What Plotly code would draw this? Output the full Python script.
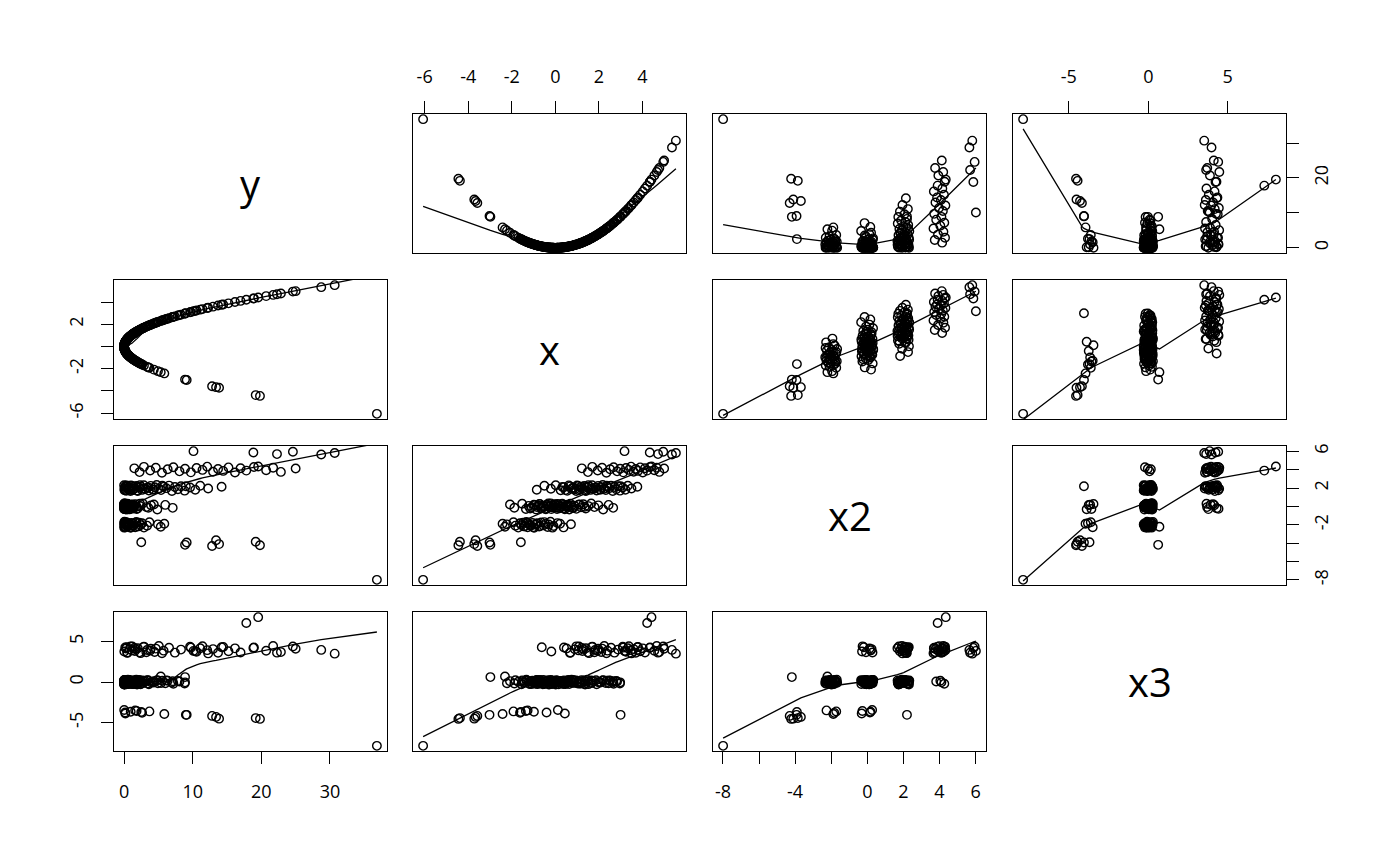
import numpy as np
import plotly.graph_objects as go

# ---------------- data ----------------
x = [-6.07,
     -4.45, -4.38, -3.72, -3.66, -3.58, -3.02, -2.98, -1.58,
     -2.42, -2.31, -2.22, -1.92, -1.83, -1.70, -1.62, -1.55, -1.48, -1.41, -1.33, -1.27, -1.20, -1.12,
     -1.05, -0.97, -0.90, -0.82, -0.74, -0.65, -0.55, -0.46, -0.35, -0.22, -0.08, 0.10, 0.38, 0.72,
     -2.08, -1.88, -1.52, -1.35, -1.22, -1.08, -0.98, -0.88, -0.78, -0.70, -0.62, -0.53, -0.47, -0.40,
     -0.32, -0.25, -0.18, -0.10, -0.03, 0.05, 0.12, 0.20, 0.28, 0.36, 0.44, 0.52, 0.60, 0.69, 0.78,
     0.88, 0.97, 1.07, 1.18, 1.29, 1.40, 1.52, 1.65, 1.80, 1.98, 2.20, 2.45, 2.66,
     -0.85, -0.50, -0.20, 0.02, 0.25, 0.40, 0.55, 0.68, 0.80, 0.90, 1.00, 1.09, 1.17, 1.25, 1.33,
     1.41, 1.48, 1.55, 1.62, 1.69, 1.76, 1.83, 1.90, 1.97, 2.04, 2.11, 2.18, 2.25, 2.32, 2.40,
     2.48, 2.56, 2.64, 2.72, 2.80, 2.88, 2.97, 3.00, 3.10, 3.22, 3.33, 3.50, 3.77,
     1.22, 1.50, 1.70, 1.95, 2.15, 2.35, 2.52, 2.68, 2.84, 2.98, 3.12, 3.25, 3.38, 3.48, 3.60,
     3.70, 3.80, 3.90, 4.02, 4.12, 4.22, 4.35, 4.42, 4.55, 4.66, 4.78, 5.00,
     3.18, 4.34, 4.72, 4.96, 5.36, 5.54,
     -1.15, -0.93, -0.84, -0.73, -0.66, -0.57, -0.43, -0.36, -0.28, -0.21, -0.14, -0.06, 0.01,
     0.08, 0.16, 0.24, 0.32, 0.40, 0.48, 0.56, 0.64, 0.74, 0.84, 1.12, 1.35,
     -1.44, -1.30, -1.16, -1.01, -0.86, -0.70, -0.50, -0.30, -0.13, 0.22,
     0.33, 0.47, 0.62, 0.75, 0.86, 0.96, 1.05, 1.13, 1.21, 1.37, 1.52, 1.66, 1.87, 2.08, 2.36]

y = [36.84,
     19.80, 19.18, 13.84, 13.40, 12.82, 9.12, 8.88, 2.50,
     5.86, 5.34, 4.93, 3.69, 3.35, 2.89, 2.62, 2.40, 2.19, 1.99, 1.77, 1.61, 1.44, 1.25,
     1.10, 0.94, 0.81, 0.67, 0.55, 0.42, 0.30, 0.21, 0.12, 0.05, 0.01, 0.01, 0.14, 0.52,
     4.33, 3.53, 2.31, 1.82, 1.49, 1.17, 0.96, 0.77, 0.61, 0.49, 0.38, 0.28, 0.22, 0.16,
     0.10, 0.06, 0.03, 0.01, 0.00, 0.00, 0.01, 0.04, 0.08, 0.13, 0.19, 0.27, 0.36, 0.48, 0.61,
     0.77, 0.94, 1.14, 1.39, 1.66, 1.96, 2.31, 2.72, 3.24, 3.92, 4.84, 6.00, 7.08,
     0.72, 0.25, 0.04, 0.00, 0.06, 0.16, 0.30, 0.46, 0.64, 0.81, 1.00, 1.19, 1.37, 1.56, 1.77,
     1.99, 2.19, 2.40, 2.62, 2.86, 3.10, 3.35, 3.61, 3.88, 4.16, 4.45, 4.75, 5.06, 5.38, 5.76,
     6.15, 6.55, 6.97, 7.40, 7.84, 8.29, 8.82, 9.00, 9.61, 10.37, 11.09, 12.25, 14.21,
     1.49, 2.25, 2.89, 3.80, 4.62, 5.52, 6.35, 7.18, 8.07, 8.88, 9.73, 10.56, 11.42, 12.11, 12.96,
     13.69, 14.44, 15.21, 16.16, 16.97, 17.81, 18.92, 19.54, 20.70, 21.72, 22.85, 25.00,
     10.11, 18.84, 22.28, 24.60, 28.73, 30.69,
     1.32, 0.86, 0.71, 0.53, 0.44, 0.32, 0.18, 0.13, 0.08, 0.04, 0.02, 0.00, 0.00,
     0.01, 0.03, 0.06, 0.10, 0.16, 0.23, 0.31, 0.41, 0.55, 0.71, 1.25, 1.82,
     2.07, 1.69, 1.35, 1.02, 0.74, 0.49, 0.25, 0.09, 0.02, 0.05,
     0.11, 0.22, 0.38, 0.56, 0.74, 0.92, 1.10, 1.28, 1.46, 1.88, 2.31, 2.76, 3.50, 4.33, 5.57]

x2 = [-7.99,
      -4.22, -3.85, -4.10, -3.68, -4.30, -3.92, -4.18, -3.90,
      -1.88, -2.21, -1.95, -1.72, -2.09, -2.30, -1.83, -2.02, -1.76, -2.15, -1.69, -2.26, -1.92, -2.11,
      -1.80, -2.33, -1.98, -1.86, -2.19, -1.74, -2.06, -1.90, -2.24, -1.67, -2.13, -1.81, -2.28, -1.93,
      0.21, -0.14, 0.30, -0.27, 0.06, -0.08, 0.18, -0.32, 0.11, 0.25, -0.19, 0.03, -0.24, 0.15,
      0.33, -0.05, -0.29, 0.09, 0.22, -0.12, 0.27, -0.20, 0.01, 0.16, -0.31, 0.13, -0.03, 0.29, -0.17,
      0.07, -0.26, 0.19, -0.10, 0.24, -0.22, 0.04, 0.32, -0.07, 0.12, -0.34, 0.17, -0.15,
      1.82, 2.26, 1.93, 2.31, 1.77, 2.10, 1.70, 2.19, 2.04, 1.86, 2.28, 1.75, 2.13, 1.96, 2.22,
      1.67, 2.07, 2.17, 1.80, 2.30, 1.90, 2.02, 1.73, 2.24, 1.84, 2.09, 2.33, 1.92, 1.78, 2.15,
      1.99, 2.27, 1.69, 2.11, 1.88, 2.20, 1.72, 2.20, 2.06, 1.81, 2.25, 1.95, 2.14,
      4.15, 3.74, 4.31, 3.92, 4.22, 3.67, 4.05, 4.27, 3.82, 4.11, 3.71, 4.19, 3.98, 4.33, 3.78,
      4.08, 3.87, 4.25, 3.69, 4.16, 3.90, 4.29, 4.35, 3.94, 4.21, 3.76, 4.13,
      6.02, 5.88, 5.70, 5.95, 5.66, 5.82,
      -0.23, 0.14, -0.06, 0.28, -0.17, 0.09, -0.30, 0.20, -0.01, 0.33, -0.12, 0.05, 0.25,
      -0.27, 0.12, -0.09, 0.30, -0.20, 0.02, 0.18, -0.33, 0.08, -0.15, 0.23, -0.04,
      -2.17, -1.79, -2.04, -2.27, -1.85, -2.12, -1.71, -1.97, -2.31, -1.89,
      2.12, 1.78, 2.29, 1.91, 2.05, 1.68, 2.23, 1.87, 2.16, 1.74, 2.32, 1.94, 2.08, 1.83, 2.26]

x3 = [-7.88,
      -4.55, -4.45, -4.52, -4.30, -4.18, -4.05, 0.62, -3.70,
      -3.95, 0.70, -0.14, -3.62, 0.23, 0.05, -3.80, -0.27, 0.12, -0.03, 0.29, -3.50, -0.20, 0.08,
      0.18, -0.10, 0.01, -0.25, 0.20, -0.06, 0.26, -0.16, 0.10, -0.08, 0.03, 0.14, -0.21, 0.07,
      0.12, -0.18, 0.21, -3.58, 0.03, -0.23, -3.66, 0.16, -0.07, 0.27, 4.30, -0.12, 0.06, -3.75,
      0.19, -0.27, 3.78, 0.09, -0.16, 0.24, -3.45, -0.05, 0.13, -0.22, -3.88, 4.15, 0.28, 3.66, -0.10,
      0.17, 4.42, 3.92, -0.18, 4.08, 0.07, -0.25, 0.20, 3.70, -0.01, 0.25, -0.14, 0.10,
      0.18, -0.23, 0.08, -0.29, 0.14, 4.28, -0.04, 3.61, 0.23, 4.05, -0.15, 4.40, 0.05, 3.85, -0.20,
      4.19, 0.26, 3.58, -0.08, 4.33, 0.12, 3.96, -0.26, 4.12, 0.02, 3.72, 0.19, 4.46, -0.12, 3.89,
      0.22, 4.24, -0.06, 3.64, 0.14, 4.02, -0.17, -4.05, 4.37, 3.80, 4.18, 3.55, 4.30,
      4.21, 3.68, 4.39, 3.90, 4.14, 3.57, 0.16, -0.21, 0.08, -0.03, 4.26, 3.74, 4.44, 3.95, 4.08,
      3.62, 4.35, 3.81, 4.17, 3.66, 7.30, 4.29, 8.03, 3.88, 4.47, 3.71, 4.12,
      3.86, 4.23, 3.64, 4.40, 3.98, 3.52,
      0.08, -0.19, 0.23, -0.05, 0.14, -0.28, 0.03, 0.20, -0.12, 0.27, -0.23, 0.11, -0.01,
      0.16, -0.26, 0.05, -0.14, 0.22, -0.08, 0.18, -0.24, 0.01, 0.25, -0.17, 0.07,
      -0.11, 0.19, -0.23, 0.04, 0.27, -0.16, 0.10, -0.29, 0.21, -0.02,
      0.15, -0.25, 0.06, 0.29, -0.09, 0.20, -0.18, 0.01, 0.25, -0.29, 0.10, -0.13, 0.23, -0.04, 0.17]

var_names = ["y", "x", "x2", "x3"]

tick_vals_y = [0, 10, 20, 30]
tick_vals_x = [-6, -4, -2, 0, 2, 4]
tick_vals_x2 = [-8, -6, -4, -2, 0, 2, 4, 6]
tick_vals_x3 = [-5, 0, 5]

labels_y_bottom = ["0", "10", "20", "30"]
labels_y_right = ["0", "", "20", ""]
labels_x_top = ["-6", "-4", "-2", "0", "2", "4"]
labels_x_left = ["-6", "", "-2", "", "2", ""]
labels_x2_bottom = ["-8", "", "-4", "", "0", "2", "4", "6"]
labels_x2_right = ["-8", "", "", "-2", "", "2", "", "6"]
labels_x3_top = ["-5", "0", "5"]
labels_x3_left = ["-5", "0", "5"]


# ---------------- R's lowess (clowess) ----------------
def _lowest(xs_, ys_, n, xv, nleft, nright, w, userw, rw):
    rng = xs_[n - 1] - xs_[0]
    h = max(xv - xs_[nleft], xs_[nright] - xv)
    h9 = 0.999 * h
    h1 = 0.001 * h
    a = 0.0
    j = nleft
    while j < n:
        w[j] = 0.0
        r = abs(xs_[j] - xv)
        if r <= h9:
            if r <= h1:
                w[j] = 1.0
            else:
                w[j] = (1.0 - (r / h) ** 3) ** 3
            if userw:
                w[j] *= rw[j]
            a += w[j]
        elif xs_[j] > xv:
            break
        j += 1
    nrt = j - 1
    if a <= 0.0:
        return 0.0, False
    for k in range(nleft, nrt + 1):
        w[k] /= a
    if h > 0.0:
        a = 0.0
        for k in range(nleft, nrt + 1):
            a += w[k] * xs_[k]
        b = xv - a
        c = 0.0
        for k in range(nleft, nrt + 1):
            c += w[k] * (xs_[k] - a) ** 2
        if np.sqrt(c) > 0.001 * rng:
            b /= c
            for k in range(nleft, nrt + 1):
                w[k] *= (b * (xs_[k] - a) + 1.0)
    val = 0.0
    for k in range(nleft, nrt + 1):
        val += w[k] * ys_[k]
    return val, True


def r_lowess(xv, yv, f=2.0 / 3.0, nsteps=3):
    xv = np.asarray(xv, float)
    yv = np.asarray(yv, float)
    o = np.argsort(xv, kind="stable")
    xs_ = list(xv[o])
    ys_ = list(yv[o])
    n = len(xs_)
    delta = 0.01 * (xs_[-1] - xs_[0])
    ns = max(2, min(n, int(f * n + 1e-7)))
    fit = [0.0] * n
    rw = [1.0] * n
    w = [0.0] * n
    it = 1
    while it <= nsteps + 1:
        nleft = 0
        nright = ns - 1
        last = -1
        i = 0
        while True:
            if nright < n - 1:
                d1 = xs_[i] - xs_[nleft]
                d2 = xs_[nright + 1] - xs_[i]
                if d1 > d2:
                    nleft += 1
                    nright += 1
                    continue
            val, ok = _lowest(xs_, ys_, n, xs_[i], nleft, nright, w, it > 1, rw)
            fit[i] = val if ok else ys_[i]
            if last < i - 1:
                denom = xs_[i] - xs_[last]
                for j in range(last + 1, i):
                    alpha = (xs_[j] - xs_[last]) / denom
                    fit[j] = alpha * fit[i] + (1.0 - alpha) * fit[last]
            last = i
            cut = xs_[last] + delta
            i = last + 1
            while i < n:
                if xs_[i] > cut:
                    break
                if xs_[i] == xs_[last]:
                    fit[i] = fit[last]
                    last = i
                i += 1
            i = max(last + 1, i - 1)
            if last >= n - 1:
                break
        res = [ys_[k] - fit[k] for k in range(n)]
        sc = sum(abs(r) for r in res) / n
        if it > nsteps:
            break
        ar = sorted(abs(r) for r in res)
        m1 = n // 2
        if n % 2 == 0:
            cmad = 3.0 * (ar[m1] + ar[n - m1 - 1])
        else:
            cmad = 6.0 * ar[m1]
        if cmad < 1e-7 * sc:
            break
        c9 = 0.999 * cmad
        c1 = 0.001 * cmad
        for k in range(n):
            r = abs(res[k])
            if r <= c1:
                rw[k] = 1.0
            elif r <= c9:
                rw[k] = (1.0 - (r / cmad) ** 2) ** 2
            else:
                rw[k] = 0.0
        it += 1
    return xs_, fit


# ---------------- layout geometry ----------------
OFF = 8  # page body margin of the browser
W, H = 1400 - OFF, 866 - OFF
LEFT, TOP, RIGHT, BOTTOM = 114 - OFF, 114 - OFF, 1286 - OFF, 751 - OFF
col_left = [c - OFF for c in (114, 413, 713, 1013)]
row_top = [r - OFF for r in (114, 280, 446, 612)]
PW, PH = 273, 139
plot_w = RIGHT - LEFT
plot_h = BOTTOM - TOP

FONT = "Open Sans"
TICK_FONT = dict(family=FONT, size=18, color="black")

data = [y, x, x2, x3]
ranges = []
for v in data:
    lo, hi = float(np.min(v)), float(np.max(v))
    d = hi - lo
    ranges.append([lo - 0.04 * d, hi + 0.04 * d])

tick_cfg = {
    ("top", 1): (tick_vals_x, labels_x_top),
    ("top", 3): (tick_vals_x3, labels_x3_top),
    ("bottom", 0): (tick_vals_y, labels_y_bottom),
    ("bottom", 2): (tick_vals_x2, labels_x2_bottom),
    ("left", 1): (tick_vals_x, labels_x_left),
    ("left", 3): (tick_vals_x3, labels_x3_left),
    ("right", 0): (tick_vals_y, labels_y_right),
    ("right", 2): (tick_vals_x2, labels_x2_right),
}

fig = go.Figure()
layout = {}
annotations = []

for i in range(4):
    for j in range(4):
        k = i * 4 + j + 1
        xa = "xaxis" if k == 1 else f"xaxis{k}"
        ya = "yaxis" if k == 1 else f"yaxis{k}"
        xref = "x" if k == 1 else f"x{k}"
        yref = "y" if k == 1 else f"y{k}"
        x0 = (col_left[j] - LEFT) / plot_w
        x1 = (col_left[j] + PW - LEFT) / plot_w
        y1 = (BOTTOM - row_top[i]) / plot_h
        y0 = (BOTTOM - row_top[i] - PH) / plot_h
        base = dict(showline=True, mirror=True, linecolor="black", linewidth=1,
                    showgrid=False, zeroline=False, ticks="", showticklabels=False,
                    fixedrange=True)
        xdict = dict(base, domain=[x0, x1], anchor=yref, range=ranges[j])
        ydict = dict(base, domain=[y0, y1], anchor=xref, range=ranges[i])
        if i == 0 and j in (1, 3):
            tv, tt = tick_cfg[("top", j)]
            xdict.update(side="top", ticks="outside", ticklen=12, tickwidth=1,
                         tickcolor="black", tickvals=tv, ticktext=tt,
                         showticklabels=True, tickfont=TICK_FONT, ticklabelstandoff=11)
        if i == 3 and j in (0, 2):
            tv, tt = tick_cfg[("bottom", j)]
            xdict.update(side="bottom", ticks="outside", ticklen=12, tickwidth=1,
                         tickcolor="black", tickvals=tv, ticktext=tt,
                         showticklabels=True, tickfont=TICK_FONT, ticklabelstandoff=12)
        if j == 0 and i in (1, 3):
            tv, tt = tick_cfg[("left", i)]
            ydict.update(side="left", ticks="outside", ticklen=12, tickwidth=1,
                         tickcolor="black", tickvals=tv, ticktext=tt, tickangle=-90,
                         showticklabels=True, tickfont=TICK_FONT, ticklabelstandoff=11)
        if j == 3 and i in (0, 2):
            tv, tt = tick_cfg[("right", i)]
            ydict.update(side="right", ticks="outside", ticklen=12, tickwidth=1,
                         tickcolor="black", tickvals=tv, ticktext=tt, tickangle=-90,
                         showticklabels=True, tickfont=TICK_FONT, ticklabelstandoff=7)
        layout[xa] = xdict
        layout[ya] = ydict

        if i == j:
            annotations.append(dict(text=var_names[i], x=(x0 + x1) / 2, y=(y0 + y1) / 2,
                                    xref="paper", yref="paper", showarrow=False,
                                    font=dict(family=FONT, size=40, color="black"),
                                    xanchor="center", yanchor="middle"))
            continue

        hx = data[j]
        vy = data[i]
        fig.add_trace(go.Scatter(x=hx, y=vy, mode="markers", xaxis=xref, yaxis=yref,
                                 marker=dict(symbol="circle-open", size=8.5, color="black",
                                             line=dict(width=1.4, color="black")),
                                 showlegend=False, hoverinfo="skip"))
        lx, ly = r_lowess(hx, vy)
        fig.add_trace(go.Scatter(x=lx, y=ly, mode="lines", xaxis=xref, yaxis=yref,
                                 line=dict(color="black", width=1.3),
                                 showlegend=False, hoverinfo="skip"))

fig.update_layout(**layout)
fig.update_layout(width=W, height=H, autosize=False,
                  margin=dict(l=LEFT, r=W - RIGHT, t=TOP, b=H - BOTTOM, pad=0),
                  paper_bgcolor="white", plot_bgcolor="white",
                  font=dict(family=FONT, color="black"),
                  annotations=annotations, showlegend=False)

fig.write_html("out.html")
